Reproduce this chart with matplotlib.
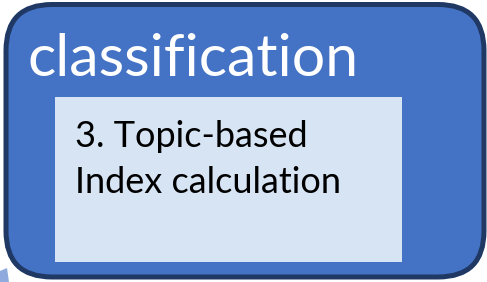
import matplotlib.pyplot as plt
from matplotlib.patches import FancyBboxPatch, Rectangle, Polygon

title = "classification"
step_lines = ["3. Topic-based", "Index calculation"]

W, H = 487, 282
fig = plt.figure(figsize=(W / 100, H / 100), dpi=100)
ax = fig.add_axes([0, 0, 1, 1])
ax.set_xlim(0, W)
ax.set_ylim(H, 0)
ax.axis("off")

# bit of an arrow peeking in at bottom left
ax.add_patch(Polygon([(0, 271), (7, 268), (9, 282), (0, 282)],
                     closed=True, facecolor="#8FAADC", edgecolor="none"))

# outer rounded box
outer = FancyBboxPatch((6, 4.5), 478, 272.5,
                       boxstyle="round,pad=0,rounding_size=46",
                       facecolor="#4472C4", edgecolor="#1F3864", linewidth=3.6)
ax.add_patch(outer)

# inner light box
ax.add_patch(Rectangle((55, 97), 347, 165, facecolor="#D6E4F4", edgecolor="none"))

ax.text(27, 76, title, color="white", fontsize=42.5, family="Lato",
        ha="left", va="baseline")
ax.text(75, 147, step_lines[0], color="black", fontsize=26, family="Lato",
        ha="left", va="baseline")
ax.text(75, 193, step_lines[1], color="black", fontsize=26, family="Lato",
        ha="left", va="baseline")

fig.savefig("out.png", dpi=100)
